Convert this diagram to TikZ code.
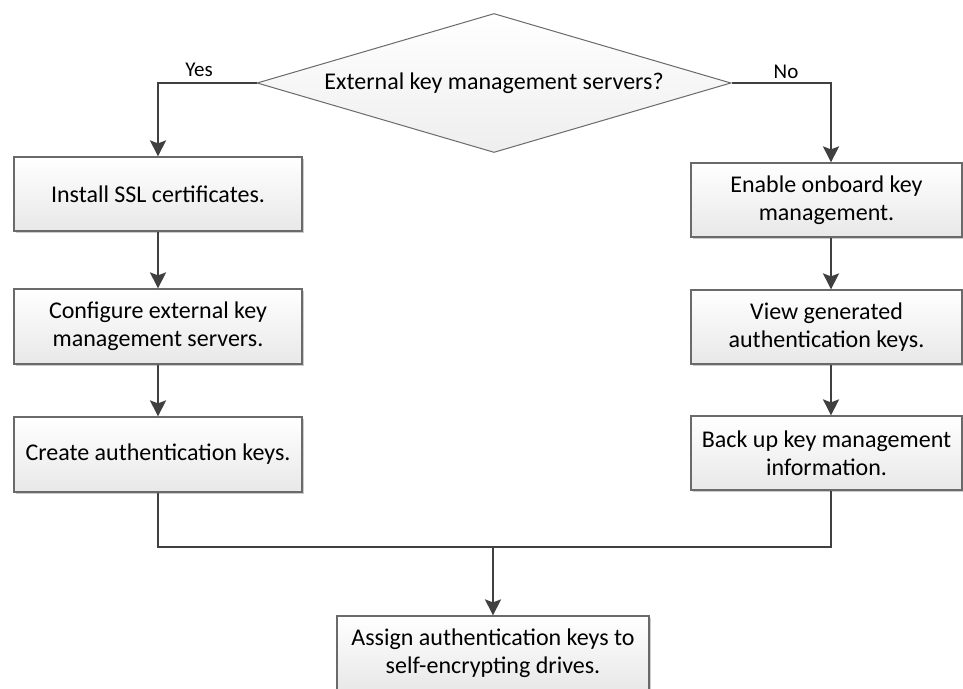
\documentclass[tikz,border=0pt]{standalone}
\usepackage{fontspec}
\setmainfont{Carlito}
\usetikzlibrary{shapes.geometric,arrows.meta,shadows}
\definecolor{conn}{HTML}{404040}
\definecolor{bord}{HTML}{6A6A6A}
\definecolor{shadebot}{HTML}{E8E8E8}
\definecolor{decbot}{HTML}{EEEEEE}
\tikzset{
  procbox/.style={rectangle, draw=bord, line width=1.2pt, top color=white, bottom color=shadebot,
    inner sep=0pt, align=center, font=\fontsize{24}{28}\selectfont,
    drop shadow={shadow xshift=1.5pt, shadow yshift=-1.5pt, opacity=0.2, fill=black}},
  decbox/.style={diamond, draw=bord, line width=1pt, top color=white, bottom color=decbot,
    inner sep=0pt, aspect=3.41, font=\fontsize{24}{28}\selectfont},
  conn/.style={draw=conn, line width=2pt},
  arr/.style={conn, -{Stealth[width=16pt,length=16pt,inset=3pt]}},
  lbl/.style={font=\fontsize{21}{24}\selectfont, inner sep=0pt}
}
\begin{document}
\begin{tikzpicture}[x=1pt,y=-1pt]
\useasboundingbox (0,0) rectangle (963,688);
\clip (0,0) rectangle (963,688);
\fill[white] (0,0) rectangle (963,688);
% decision
\node[decbox, minimum width=474pt, minimum height=139pt] (dec) at (494,83) {External key management servers?};
% left column
\node[procbox, minimum width=288pt, minimum height=74pt] (l1) at (158,194) {Install SSL certificates.};
\node[procbox, minimum width=288pt, minimum height=75pt] (l2) at (158,326.5) {Configure external key\\management servers.};
\node[procbox, minimum width=288pt, minimum height=75pt] (l3) at (158,454.5) {Create authentication keys.};
% right column
\node[procbox, minimum width=271pt, minimum height=74pt] (r1) at (826.5,200) {Enable onboard key\\management.};
\node[procbox, minimum width=271pt, minimum height=74pt] (r2) at (826.5,327) {View generated\\authentication keys.};
\node[procbox, minimum width=271pt, minimum height=74pt] (r3) at (826.5,453) {Back up key management\\information.};
% bottom
\node[procbox, minimum width=312pt, minimum height=74pt] (b) at (493,653) {Assign authentication keys to\\self-encrypting drives.};
% helper coordinates
\coordinate (ncol) at (831,0);
\coordinate (mergeL) at (158,547);
\coordinate (mergeR) at (831,547);
\coordinate (mergeM) at (493,547);
% connectors
\draw[arr] (dec.west) -| (l1.north);
\draw[arr] (dec.east) -| (r1.north -| ncol);
\draw[arr] (l1) -- (l2);
\draw[arr] (l2) -- (l3);
\draw[arr] (r1.south -| ncol) -- (r2.north -| ncol);
\draw[arr] (r2.south -| ncol) -- (r3.north -| ncol);
\draw[conn] (l3.south) -- (mergeL) -- (mergeR) -- (r3.south -| ncol);
\draw[arr] (mergeM) -- (b.north);
% labels
\node[lbl] (yes) at (199,70) {Yes};
\node[lbl] (no) at (786,72) {No};
\end{tikzpicture}
\end{document}
